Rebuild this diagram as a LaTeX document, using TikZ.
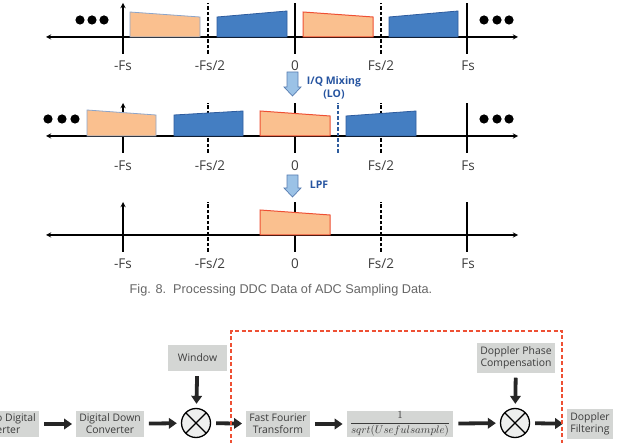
\documentclass[tikz,border=0pt]{standalone}
\usepackage{fontspec}
\setmainfont{Open Sans}
\newfontfamily\capfont{Liberation Sans}
\usetikzlibrary{arrows.meta,positioning}
\definecolor{peach}{RGB}{250,192,143}
\definecolor{bblue}{RGB}{68,126,194}
\definecolor{bline}{RGB}{46,92,158}
\definecolor{rline}{RGB}{238,80,52}
\definecolor{boxgray}{RGB}{212,214,212}
\definecolor{lblue}{RGB}{155,194,230}
\definecolor{tblue}{RGB}{38,84,160}
\definecolor{tgray}{RGB}{60,60,60}
\tikzset{
  lbl/.style={text=tgray,font=\fontsize{13.5}{15}\selectfont},
  gbox/.style={fill=boxgray,text=tgray,align=center,inner xsep=3pt,minimum height=26pt,font=\fontsize{10.4}{12}\selectfont},
  mixer/.style={draw,circle,line width=1.3pt,minimum size=29pt,inner sep=0pt,fill=boxgray!40,
    path picture={\draw[line width=1.3pt](path picture bounding box.north west)--(path picture bounding box.south east)
      (path picture bounding box.north east)--(path picture bounding box.south west);}},
  flow/.style={line width=3.8pt,black!85,-{Triangle[length=8pt,width=10.5pt]},shorten <=5pt,shorten >=4pt},
  pband/.style={fill=peach,draw=bline!55,line width=.8pt},
  rband/.style={fill=peach,draw=rline,line width=1pt},
  bband/.style={fill=bblue,draw=bline,line width=.8pt},
  tk/.style={line width=1.3pt},
  dtk/.style={line width=1.3pt,dash pattern=on 3.5pt off 2pt}
}
\begin{document}
\begin{tikzpicture}[>=stealth,x=1pt,y=-1pt]
\useasboundingbox (0,0) rectangle (626,443);
\clip (0,0) rectangle (626,443);
    \draw[tk,<->](46,37)--(518,37);
    \draw[tk,->](123,54)--(123,3);
    \draw[dtk](208,54)--(208,3);
    \draw[tk](295,54)--(295,3);
    \draw[dtk](381,54)--(381,3);
    \draw[tk](467,54)--(467,3);
    \draw[pband](130,37)--(130,12)--(200,17)--(200,37)--cycle;
    \draw[bband](217,37)--(217,17)--(287,11)--(287,37)--cycle;
    \draw[rband](303,37)--(303,12)--(373,17)--(373,37)--cycle;
    \draw[bband](389,37)--(389,17)--(458,11)--(458,37)--cycle;
    \foreach \x in {80,92,104,484,497,509} \fill(\x,20)circle(4.6pt);
    \node[lbl] (a1) at (123,66) {-Fs};
    \node[lbl] (a2) at (210,66) {-Fs/2};
    \node[lbl] (a3) at (295,66) {0};
    \node[lbl] (a4) at (381,66) {Fs/2};
    \node[lbl] (a5) at (468,66) {Fs};
\draw[fill=lblue,draw=bline!80,line width=.7pt](287,72)--(298,72)--(298,87)--(301,87)--(292.5,96)--(284,87)--(287,87)--cycle;
    \node[text=tblue,font=\bfseries\fontsize{10.5}{12.5}\selectfont,align=center] (iq) at (334,88) {I/Q Mixing\\(LO)};
    \draw[tk,<->](46,136)--(518,136);
    \draw[tk,->](123,153)--(123,103);
    \draw[dtk](208,153)--(208,103);
    \draw[tk](295,153)--(295,103);
    \draw[dtk](381,153)--(381,103);
    \draw[tk](467,153)--(467,103);
    \draw[pband](87,136)--(87,110)--(156,115)--(156,136)--cycle;
    \draw[bband](174,136)--(174,115)--(243,111)--(243,136)--cycle;
    \draw[rband](260,136)--(260,111)--(330,116)--(330,136)--cycle;
    \draw[bband](346,136)--(346,116)--(416,111)--(416,136)--cycle;
    \draw[dtk,bline](338,153)--(338,103);
    \foreach \x in {48,62,75,484,497,509} \fill(\x,119)circle(4.6pt);
    \node[lbl] (b1) at (123,166) {-Fs};
    \node[lbl] (b2) at (210,166) {-Fs/2};
    \node[lbl] (b3) at (295,166) {0};
    \node[lbl] (b4) at (381,166) {Fs/2};
    \node[lbl] (b5) at (468,166) {Fs};
\draw[fill=lblue,draw=bline!80,line width=.7pt](287,175)--(298,175)--(298,188)--(301,188)--(292.5,197)--(284,188)--(287,188)--cycle;
    \node[text=tblue,font=\bfseries\fontsize{10.5}{12.5}\selectfont] (lpf) at (319,185) {LPF};
    \draw[tk,<->](46,235)--(518,235);
    \draw[tk,->](123,252)--(123,202);
    \draw[dtk](208,252)--(208,202);
    \draw[tk](295,252)--(295,202);
    \draw[dtk](381,252)--(381,202);
    \draw[tk](467,252)--(467,202);
    \draw[rband](260,235)--(260,210)--(330,215)--(330,235)--cycle;
    \node[lbl] (c1) at (123,264) {-Fs};
    \node[lbl] (c2) at (210,264) {-Fs/2};
    \node[lbl] (c3) at (295,264) {0};
    \node[lbl] (c4) at (381,264) {Fs/2};
    \node[lbl] (c5) at (468,264) {Fs};
    \node[text=black!60,font=\capfont\fontsize{12.7}{14}\selectfont] (cap) at (281,290) {Fig. 8.\ \ Processing DDC Data of ADC Sampling Data.};
\node[gbox,anchor=east] (adc) at (39,424) {Analog to Digital\\Converter};
    \node[gbox,minimum width=66pt] (ddc) at (110,424) {Digital Down\\Converter};
    \node[mixer] (mix1) at (196,423) {};
    \node[gbox,minimum width=59pt] (win) at (197.5,358) {Window};
    \node[gbox,minimum width=59pt] (fft) at (278,424) {Fast Fourier\\Transform};
    \node[gbox,minimum width=104pt,inner ysep=1pt,font=\fontsize{10.8}{12}\selectfont] (norm) at (400,424) {$\displaystyle\frac{1}{sqrt(Usefulsample)}$};
    \node[mixer] (mix2) at (515,423) {};
    \node[gbox,minimum width=70pt] (dpc) at (516,358) {Doppler Phase\\Compensation};
    \node[gbox,minimum width=44pt] (dop) at (590,424) {Doppler\\Filtering};
    \draw[flow](adc)--(ddc);
    \draw[flow](ddc)--(mix1);
    \draw[flow](win)--(mix1);
    \draw[flow](mix1)--(fft);
    \draw[flow](fft)--(norm);
    \draw[flow](norm)--(mix2);
    \draw[flow](dpc)--(mix2);
    \draw[flow](mix2)--(dop);
    \draw[rline,line width=1.3pt,dash pattern=on 4pt off 2.5pt](231,470)--(231,331)--(562,331)--(562,470);
\end{tikzpicture}
\end{document}
